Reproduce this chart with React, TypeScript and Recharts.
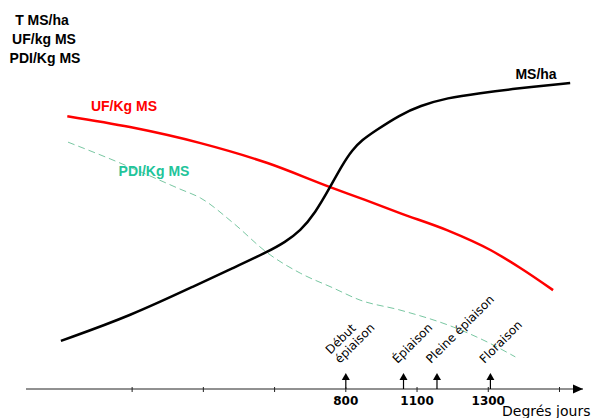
import { ComposedChart, Line, Scatter, XAxis, YAxis, ReferenceDot } from "recharts";

const xTicks = [1, 2, 3, 4, 5, 6, 7];
const xTickLabels = ["", "", "", "800", "1100", "1300", ""];
const xDomain = [-0.49, 7.33];

// T MS/ha
const msHa = [
  [0.0, 15], [0.97, 22.7], [1.96, 33], [2.42, 37.7], [2.9, 42.7], [3.15, 45.8],
  [3.36, 49.2], [3.57, 54.8], [3.78, 62.9], [3.95, 69.8], [4.09, 74.5], [4.23, 77.6],
  [4.41, 80.4], [4.76, 85.4], [5.04, 88.2], [5.42, 90.7], [5.89, 92.2], [6.35, 93.5],
  [7.15, 95.3],
];

// UF/kg MS
const ufKg = [
  [0.09, 85], [0.97, 81.6], [1.96, 76.6], [2.9, 70.4], [3.78, 62.9], [4.27, 58.9],
  [4.76, 54.8], [5.42, 49.5], [6.03, 43.3], [6.45, 37.7], [6.91, 30.8],
];

// PDI/kg MS
const pdiKg = [
  [0.1, 76.9], [0.69, 71.7], [1.67, 62.3], [1.96, 59.5], [2.42, 51.7], [2.9, 42.4],
  [3.36, 36.1], [3.82, 31.5], [4.2, 27.7], [4.76, 24.6], [5.51, 19.3], [5.99, 14.6],
  [6.38, 10],
];

const stages = [
  { x: 4, y: 0, label: ["Début", "épiaison"] },
  { x: 4.81, y: 0, label: ["Épiaison"] },
  { x: 5.28, y: 0, label: ["Pleine épiaison"] },
  { x: 6.03, y: 0, label: ["Floraison"] },
];

const toPoints = (arr: number[][]) => arr.map(([x, y]) => ({ x, y }));

function StageArrow(props: any) {
  const { cx, cy, payload } = props;
  const lines: string[] = payload.label;
  const tx = cx - 6;
  const ty = cy - 25;
  return (
    <g>
      <line x1={cx} x2={cx} y1={cy} y2={cy - 10} stroke="#000" strokeWidth={1.2} />
      <polygon points={`${cx},${cy - 16} ${cx - 4},${cy - 9} ${cx + 4},${cy - 9}`} fill="#000" />
      <text
        transform={`translate(${tx},${ty}) rotate(-45)`}
        fontSize={12}
        fontFamily="DejaVu Sans"
        fill="#000"
      >
        {lines.map((l, i) => (
          <tspan key={i} x={0} y={(i - (lines.length - 1)) * 13}>
            {l}
          </tspan>
        ))}
      </text>
    </g>
  );
}

function XTick(props: any) {
  const { x, y, index } = props;
  return (
    <g>
      <line x1={x} x2={x} y1={y - 2} y2={y + 3} stroke="#222" />
      <text x={x} y={y + 16} textAnchor="middle" fontSize={12} fontWeight="bold" fontFamily="DejaVu Sans" fill="#000">
        {xTickLabels[index]}
      </text>
    </g>
  );
}

function AxisArrow(props: any) {
  const { cx, cy } = props;
  return <polygon points={`${cx},${cy} ${cx - 10},${cy - 4.5} ${cx - 10},${cy + 4.5}`} fill="#000" />;
}

export default function App() {
  const label = { fontFamily: "Liberation Sans, Arial, sans-serif", fontSize: 14, fontWeight: "bold" as const };
  return (
    <div style={{ position: "absolute", left: 0, top: 0, width: 598, height: 418, background: "#fff", overflow: "hidden" }}>
      <ComposedChart width={598} height={418} margin={{ top: 68, right: 15, left: 26, bottom: 0 }}>
        <XAxis
          type="number"
          dataKey="x"
          domain={xDomain}
          ticks={xTicks}
          interval={0}
          height={29}
          tickLine={false}
          tickSize={0}
          tickMargin={0}
          tick={<XTick />}
          axisLine={{ stroke: "#222" }}
          allowDataOverflow
        />
        <YAxis type="number" domain={[0, 100]} width={0} tick={false} tickLine={false} axisLine={{ stroke: "#222" }} />
        <Line data={toPoints(pdiKg)} dataKey="y" type="monotone" stroke="#79c7a2" strokeWidth={1} strokeDasharray="7 4" dot={false} isAnimationActive={false} />
        <Line data={toPoints(ufKg)} dataKey="y" type="monotone" stroke="#ff0000" strokeWidth={2.5} dot={false} isAnimationActive={false} />
        <Line data={toPoints(msHa)} dataKey="y" type="basis" stroke="#000" strokeWidth={2.5} dot={false} isAnimationActive={false} />
        <Scatter data={stages} dataKey="y" shape={<StageArrow />} isAnimationActive={false} />
        <ReferenceDot x={xDomain[1]} y={0} ifOverflow="visible" shape={<AxisArrow />} />
      </ComposedChart>
      <svg width={598} height={418} style={{ position: "absolute", left: 0, top: 0, pointerEvents: "none" }}>
        <text x={42} y={25} textAnchor="middle" {...label} fill="#000">T MS/ha</text>
        <text x={44} y={44} textAnchor="middle" {...label} fill="#000">UF/kg MS</text>
        <text x={45} y={63} textAnchor="middle" {...label} fill="#000">PDI/Kg MS</text>
        <text x={536} y={79} textAnchor="middle" {...label} fill="#000">MS/ha</text>
        <text x={124} y={111} textAnchor="middle" {...label} fill="#ff0000">UF/Kg MS</text>
        <text x={154} y={176} textAnchor="middle" {...label} fill="#22c49a">PDI/Kg MS</text>
        <text x={502} y={416} fontFamily="DejaVu Sans" fontSize={14} fill="#000">Degrés jours</text>
      </svg>
    </div>
  );
}
